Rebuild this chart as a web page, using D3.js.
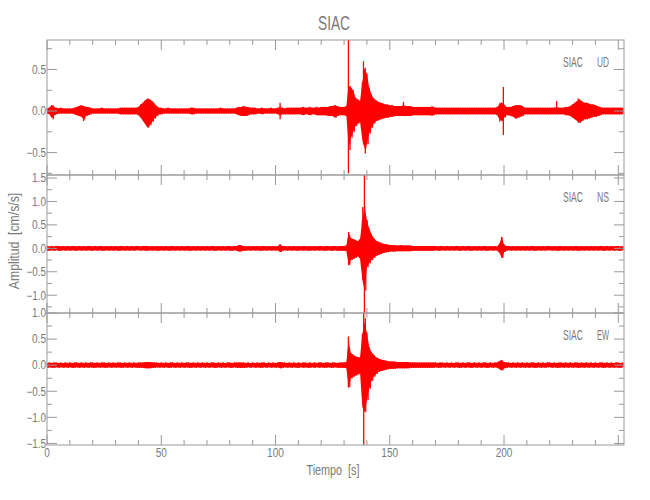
<!DOCTYPE html>
<html><head><meta charset="utf-8">
<script src="https://cdn.jsdelivr.net/npm/d3@7"></script>
<style>
body{margin:0;background:#fff;}
text{font-family:"Liberation Sans","DejaVu Sans",sans-serif;fill:#7a7a7a;}
</style></head>
<body><svg id="c" width="650" height="500"></svg>
<script>
// ---- data ----
const title = "SIAC";
const station = "SIAC";
const channels = ["UD", "NS", "EW"];
const timeStep = 1;            // seconds between envelope samples
const timeMax = 252.5;
const xTicksMajor = [0, 50, 100, 150, 200];
const yRanges = [[-0.77, 0.855], [-1.38, 1.565], [-1.53, 1.0]];

const udHigh = [
.03,.04,.07,.05,.04,.03,.04,.03,.03,.03, .03,.03,.04,.05,.06,.07,.06,.05,.05,.04,
.03,.03,.03,.03,.04,.03,.03,.03,.03,.03, .03,.03,.04,.04,.04,.04,.04,.04,.04,.04,
.05,.08,.10,.13,.15,.14,.12,.09,.06,.04, .04,.03,.03,.04,.03,.03,.03,.03,.03,.03,
.03,.03,.03,.04,.04,.03,.03,.03,.03,.03, .03,.03,.03,.03,.03,.03,.04,.03,.03,.03,
.03,.03,.03,.04,.05,.05,.06,.05,.05,.04, .04,.04,.03,.03,.04,.03,.03,.03,.04,.03,
.03,.04,.05,.04,.03,.04,.04,.04,.04,.04, .04,.04,.05,.04,.04,.05,.04,.04,.05,.04,
.05,.05,.05,.05,.06,.06,.07,.06,.05,.05, .05,.06,.30,.28,.25,.16,.14,.12,.35,.50,
.45,.28,.20,.15,.13,.11,.10,.09,.08,.08, .07,.07,.06,.06,.06,.06,.07,.06,.06,.06,
.05,.05,.05,.05,.05,.05,.05,.05,.05,.05, .04,.04,.04,.04,.04,.04,.04,.04,.04,.04,
.04,.04,.04,.04,.04,.04,.04,.04,.04,.04, .04,.04,.04,.04,.04,.04,.04,.05,.08,.10,
.08,.05,.05,.05,.06,.07,.07,.07,.06,.04, .04,.04,.04,.04,.04,.04,.04,.04,.04,.04,
.04,.04,.04,.05,.04,.04,.04,.05,.05,.06, .08,.10,.12,.14,.12,.10,.10,.09,.08,.08,
.07,.06,.05,.04,.04,.04,.04,.04,.04,.04, .04,.04,.04];
const udLow = [
-.03,-.04,-.08,-.05,-.04,-.03,-.03,-.03,-.03,-.03, -.03,-.03,-.04,-.05,-.06,-.07,-.10,-.06,-.05,-.04,
-.03,-.03,-.03,-.03,-.03,-.03,-.03,-.03,-.03,-.03, -.03,-.03,-.04,-.04,-.04,-.04,-.04,-.04,-.04,-.04,
-.05,-.08,-.12,-.16,-.20,-.17,-.13,-.09,-.06,-.04, -.04,-.03,-.03,-.03,-.03,-.03,-.03,-.03,-.03,-.03,
-.03,-.03,-.03,-.04,-.04,-.03,-.03,-.03,-.03,-.03, -.03,-.03,-.03,-.03,-.03,-.03,-.03,-.03,-.03,-.03,
-.03,-.03,-.03,-.04,-.05,-.06,-.06,-.06,-.05,-.04, -.04,-.04,-.03,-.03,-.04,-.03,-.03,-.03,-.03,-.03,
-.03,-.04,-.05,-.04,-.04,-.04,-.04,-.04,-.04,-.04, -.04,-.04,-.05,-.04,-.04,-.05,-.04,-.04,-.05,-.05,
-.05,-.05,-.05,-.06,-.06,-.06,-.08,-.06,-.05,-.05, -.05,-.06,-.40,-.32,-.25,-.18,-.15,-.13,-.35,-.45,
-.40,-.27,-.20,-.15,-.12,-.11,-.10,-.09,-.08,-.08, -.07,-.07,-.06,-.06,-.06,-.06,-.06,-.06,-.06,-.06,
-.05,-.05,-.05,-.05,-.05,-.05,-.05,-.05,-.05,-.05, -.04,-.04,-.04,-.04,-.04,-.04,-.04,-.04,-.04,-.04,
-.04,-.04,-.04,-.04,-.04,-.04,-.04,-.04,-.04,-.04, -.04,-.04,-.04,-.04,-.04,-.04,-.04,-.05,-.10,-.12,
-.08,-.05,-.05,-.06,-.07,-.09,-.08,-.07,-.06,-.04, -.04,-.04,-.04,-.04,-.04,-.04,-.04,-.04,-.04,-.04,
-.04,-.04,-.04,-.04,-.04,-.04,-.04,-.05,-.05,-.06, -.08,-.10,-.12,-.14,-.12,-.10,-.10,-.09,-.08,-.07,
-.07,-.06,-.05,-.04,-.04,-.04,-.04,-.04,-.04,-.04, -.04,-.04,-.04];
const udSpikes = [[2.7,.07,-.10],[16,.06,-.12],[102,.10,-.10],[131.9,.855,-.75],[132.6,.30,-.47],
  [138.5,.60,-.40],[139.3,.52,-.51],[156,.11,-.05],[168.5,.06,-.06],[198.2,.10,-.13],[199.7,.29,-.29],[223,.12,-.03],[232.5,.15,-.14]];

const nsHigh = [
.05,.04,.05,.04,.05,.05,.04,.05,.04,.05, .04,.05,.05,.04,.05,.04,.05,.04,.05,.05,
.04,.05,.04,.05,.05,.04,.05,.04,.05,.04, .05,.04,.05,.05,.04,.05,.04,.05,.04,.05,
.05,.04,.05,.05,.05,.04,.05,.04,.05,.04, .05,.04,.05,.04,.05,.05,.04,.05,.04,.05,
.04,.05,.05,.04,.05,.04,.05,.04,.05,.04, .05,.04,.05,.05,.04,.05,.04,.05,.04,.05,
.05,.04,.05,.05,.07,.06,.05,.04,.05,.04, .05,.04,.05,.04,.05,.05,.04,.05,.04,.05,
.04,.05,.08,.05,.05,.04,.05,.04,.05,.04, .05,.04,.05,.05,.04,.05,.04,.05,.04,.05,
.05,.04,.05,.05,.04,.05,.05,.04,.05,.05, .05,.06,.33,.22,.20,.18,.15,.20,.60,.90,
.60,.42,.30,.22,.16,.14,.12,.10,.09,.08, .07,.07,.07,.06,.06,.07,.06,.06,.06,.06,
.05,.05,.05,.05,.05,.05,.05,.05,.05,.05, .05,.04,.05,.05,.04,.05,.04,.05,.04,.05,
.05,.04,.05,.04,.05,.05,.04,.05,.04,.05, .04,.05,.05,.04,.05,.04,.05,.04,.10,.24,
.08,.05,.05,.04,.05,.04,.05,.04,.05,.04, .05,.04,.05,.05,.04,.05,.04,.05,.04,.05,
.05,.04,.05,.04,.05,.05,.04,.05,.04,.05, .04,.05,.05,.04,.05,.04,.05,.04,.05,.04,
.05,.04,.05,.05,.04,.05,.04,.05,.04,.05, .05,.04,.05];
const nsLow = [
-.05,-.05,-.04,-.05,-.04,-.05,-.05,-.04,-.05,-.04, -.05,-.04,-.05,-.05,-.04,-.05,-.04,-.05,-.04,-.05,
-.05,-.04,-.05,-.04,-.05,-.05,-.04,-.05,-.04,-.05, -.04,-.05,-.05,-.04,-.05,-.04,-.05,-.04,-.05,-.04,
-.04,-.05,-.04,-.05,-.05,-.04,-.05,-.04,-.05,-.05, -.04,-.05,-.04,-.05,-.05,-.04,-.05,-.04,-.05,-.04,
-.05,-.04,-.05,-.05,-.04,-.05,-.04,-.05,-.04,-.05, -.04,-.05,-.04,-.05,-.05,-.04,-.05,-.04,-.05,-.04,
-.05,-.05,-.04,-.05,-.07,-.06,-.05,-.05,-.04,-.05, -.04,-.05,-.04,-.05,-.05,-.04,-.05,-.04,-.05,-.04,
-.05,-.04,-.08,-.05,-.04,-.05,-.04,-.05,-.04,-.05, -.05,-.04,-.05,-.04,-.05,-.05,-.04,-.05,-.04,-.05,
-.04,-.05,-.05,-.04,-.05,-.05,-.04,-.05,-.05,-.05, -.05,-.06,-.35,-.25,-.22,-.20,-.17,-.22,-.67,-.90,
-.40,-.32,-.25,-.20,-.16,-.14,-.12,-.10,-.09,-.08, -.07,-.07,-.07,-.06,-.06,-.06,-.06,-.06,-.06,-.06,
-.05,-.05,-.05,-.05,-.05,-.05,-.05,-.05,-.05,-.05, -.04,-.05,-.05,-.04,-.05,-.04,-.05,-.04,-.05,-.04,
-.05,-.05,-.04,-.05,-.04,-.05,-.05,-.04,-.05,-.04, -.05,-.04,-.05,-.05,-.04,-.05,-.04,-.05,-.10,-.20,
-.08,-.05,-.04,-.05,-.04,-.05,-.04,-.05,-.04,-.05, -.04,-.05,-.04,-.05,-.05,-.04,-.05,-.04,-.05,-.04,
-.04,-.05,-.04,-.05,-.05,-.04,-.05,-.04,-.05,-.04, -.05,-.04,-.05,-.05,-.04,-.05,-.04,-.05,-.04,-.05,
-.04,-.05,-.04,-.05,-.05,-.04,-.05,-.04,-.05,-.04, -.05,-.05,-.04];
const nsSpikes = [[84.5,.07,-.07],[102,.08,-.08],[132,.35,-.36],[138.2,.88,-.67],[138.9,1.56,-1.38],[140,.60,-.39],[199,.24,-.20]];

const ewHigh = [
.04,.05,.04,.05,.05,.04,.05,.04,.05,.04, .05,.04,.05,.05,.04,.05,.04,.05,.04,.05,
.05,.04,.05,.04,.05,.05,.04,.05,.04,.05, .04,.05,.05,.04,.05,.04,.05,.04,.05,.04,
.05,.05,.05,.06,.06,.06,.05,.05,.05,.04, .05,.04,.05,.04,.05,.05,.04,.05,.04,.05,
.04,.05,.05,.04,.05,.04,.05,.04,.05,.04, .05,.04,.05,.05,.04,.05,.04,.05,.04,.05,
.05,.04,.05,.05,.05,.05,.05,.04,.05,.04, .05,.04,.05,.04,.05,.05,.04,.05,.04,.05,
.04,.05,.06,.05,.05,.04,.05,.04,.05,.04, .05,.04,.05,.05,.04,.05,.04,.05,.04,.05,
.05,.04,.05,.05,.04,.05,.05,.04,.05,.05, .05,.06,.45,.23,.20,.17,.15,.15,.60,.80,
.62,.35,.25,.20,.15,.13,.11,.10,.09,.08, .07,.07,.07,.06,.06,.06,.06,.06,.06,.05,
.05,.05,.05,.05,.05,.05,.05,.05,.05,.05, .05,.04,.05,.05,.04,.05,.04,.05,.04,.05,
.05,.04,.05,.04,.05,.05,.04,.05,.04,.05, .04,.05,.05,.04,.05,.04,.05,.05,.08,.10,
.06,.05,.05,.04,.05,.04,.05,.04,.05,.04, .05,.04,.05,.05,.04,.05,.04,.05,.04,.05,
.05,.04,.05,.04,.05,.05,.04,.05,.04,.05, .04,.05,.05,.04,.05,.04,.05,.04,.05,.04,
.05,.04,.05,.05,.04,.05,.04,.05,.04,.05, .05,.04,.05];
const ewLow = [
-.05,-.04,-.05,-.05,-.04,-.05,-.04,-.05,-.04,-.05, -.04,-.05,-.05,-.04,-.05,-.04,-.05,-.04,-.05,-.04,
-.05,-.05,-.04,-.05,-.04,-.05,-.05,-.04,-.05,-.04, -.05,-.04,-.05,-.05,-.04,-.05,-.04,-.05,-.04,-.05,
-.05,-.05,-.05,-.06,-.06,-.06,-.05,-.05,-.04,-.05, -.04,-.05,-.04,-.05,-.05,-.04,-.05,-.04,-.05,-.04,
-.05,-.04,-.05,-.05,-.04,-.05,-.04,-.05,-.04,-.05, -.04,-.05,-.04,-.05,-.05,-.04,-.05,-.04,-.05,-.04,
-.05,-.05,-.04,-.05,-.05,-.05,-.05,-.05,-.04,-.05, -.04,-.05,-.04,-.05,-.05,-.04,-.05,-.04,-.05,-.04,
-.05,-.04,-.06,-.05,-.04,-.05,-.04,-.05,-.04,-.05, -.05,-.04,-.05,-.04,-.05,-.05,-.04,-.05,-.04,-.05,
-.04,-.05,-.05,-.04,-.05,-.05,-.04,-.05,-.05,-.05, -.05,-.06,-.42,-.25,-.22,-.20,-.18,-.15,-.80,-.90,
-.67,-.45,-.30,-.22,-.17,-.13,-.11,-.10,-.09,-.08, -.07,-.07,-.07,-.06,-.06,-.06,-.06,-.06,-.06,-.05,
-.05,-.05,-.05,-.05,-.05,-.05,-.05,-.05,-.05,-.05, -.04,-.05,-.05,-.04,-.05,-.04,-.05,-.04,-.05,-.04,
-.05,-.05,-.04,-.05,-.04,-.05,-.05,-.04,-.05,-.04, -.05,-.04,-.05,-.05,-.04,-.05,-.04,-.05,-.08,-.10,
-.06,-.05,-.04,-.05,-.04,-.05,-.04,-.05,-.04,-.05, -.04,-.05,-.04,-.05,-.05,-.04,-.05,-.04,-.05,-.04,
-.04,-.05,-.04,-.05,-.05,-.04,-.05,-.04,-.05,-.04, -.05,-.04,-.05,-.05,-.04,-.05,-.04,-.05,-.04,-.05,
-.04,-.05,-.04,-.05,-.05,-.04,-.05,-.04,-.05,-.04, -.05,-.05,-.04];
const ewSpikes = [[131.9,.55,-.43],[138.6,1.0,-1.53],[139.3,.9,-.67]];

// ---- drawing ----
const highs = [udHigh, nsHigh, ewHigh];
const lows = [udLow, nsLow, ewLow];
const spikes = [udSpikes, nsSpikes, ewSpikes];

const svg = d3.select("#c");
const L = 47, R = 624;
const panelEdges = [40, 175, 313, 445];
const axisColor = "#9a9a9a";
const red = "#ff0000";

// narrow (Hershey-like) text: fixed advance width per character
function narrowText(sel, str, perChar) {
  sel.text(str);
  let w = 0;
  for (const c of str) w += (c === "." ? 0.5 : c === " " ? 0.6 : 1) * perChar;
  sel.attr("textLength", w).attr("lengthAdjust", "spacingAndGlyphs");
  return sel;
}

const x = d3.scaleLinear().domain([0, timeMax]).range([L, R]);

narrowText(svg.append("text").attr("x", 334).attr("y", 30).attr("text-anchor", "middle")
  .attr("font-size", 20), title, 8);

channels.forEach((ch, i) => {
  const top = panelEdges[i], bot = panelEdges[i + 1];
  const y = d3.scaleLinear().domain(yRanges[i]).range([bot, top]);
  const g = svg.append("g");
  const pts = highs[i].map((h, k) => ({ t: k * timeStep, hi: h, lo: lows[i][k] }));

  g.append("path").datum(pts)
    .attr("d", d3.area().x(d => x(d.t)).y0(d => y(d.lo)).y1(d => y(d.hi)))
    .attr("fill", red).attr("stroke", "none");
  const zig = [];
  pts.forEach(d => { zig.push([d.t, d.hi]); zig.push([d.t + timeStep / 2, d.lo]); });
  g.append("path").datum(zig)
    .attr("d", d3.line().x(d => x(d[0])).y(d => y(d[1])))
    .attr("fill", "none").attr("stroke", red).attr("stroke-width", 1).attr("stroke-opacity", 0.8);
  g.selectAll("line.sp").data(spikes[i]).join("line").attr("class", "sp")
    .attr("x1", d => x(d[0])).attr("x2", d => x(d[0]))
    .attr("y1", d => y(d[1])).attr("y2", d => y(d[2]))
    .attr("stroke", red).attr("stroke-width", 1.3);

  const fr = svg.append("g").attr("stroke", axisColor).attr("fill", "none");
  fr.append("rect").attr("x", L).attr("y", top).attr("width", R - L).attr("height", bot - top);

  const xt = d3.range(0, timeMax + 0.01, 10);
  xt.forEach(t => {
    const len = (t % 50 === 0) ? 10 : 5;
    fr.append("line").attr("x1", x(t)).attr("x2", x(t)).attr("y1", bot).attr("y2", bot - len);
    fr.append("line").attr("x1", x(t)).attr("x2", x(t)).attr("y1", top).attr("y2", top + len);
  });
  const [y0, y1] = yRanges[i];
  const yt = d3.range(Math.ceil(y0 / 0.25) * 0.25, y1 + 1e-9, 0.25);
  yt.forEach(v => {
    const major = Math.abs(Math.round(v * 2) - v * 2) < 1e-6;
    const len = major ? 10 : 5;
    fr.append("line").attr("x1", L).attr("x2", L + len).attr("y1", y(v)).attr("y2", y(v));
    fr.append("line").attr("x1", R).attr("x2", R - len).attr("y1", y(v)).attr("y2", y(v));
    if (major) {
      narrowText(svg.append("text").attr("x", L - 1).attr("y", y(v)).attr("dy", "0.36em")
        .attr("text-anchor", "end").attr("font-size", 12),
        d3.format(".1f")(v).replace("-", "\u2212"), 5.6);
    }
  });

  narrowText(svg.append("text").attr("x", 563).attr("y", top + 27).attr("font-size", 15), station, 5);
  narrowText(svg.append("text").attr("x", 609).attr("y", top + 27).attr("text-anchor", "end")
    .attr("font-size", 15), ch, 6);

  if (i === 2) {
    xTicksMajor.forEach(t => {
      narrowText(svg.append("text").attr("x", x(t)).attr("y", bot + 8).attr("dy", "0.36em")
        .attr("text-anchor", "middle").attr("font-size", 12), String(t), 5.6);
    });
  }
});

narrowText(svg.append("text").attr("x", 333).attr("y", 475).attr("text-anchor", "middle")
  .attr("font-size", 15).style("white-space", "pre"), "Tiempo  [s]", 5.2);
narrowText(svg.append("text").attr("transform", "translate(19,241) rotate(-90)")
  .attr("text-anchor", "middle").attr("font-size", 15).style("white-space", "pre"),
  "Amplitud  [cm/s/s]", 5.6);
</script></body></html>
